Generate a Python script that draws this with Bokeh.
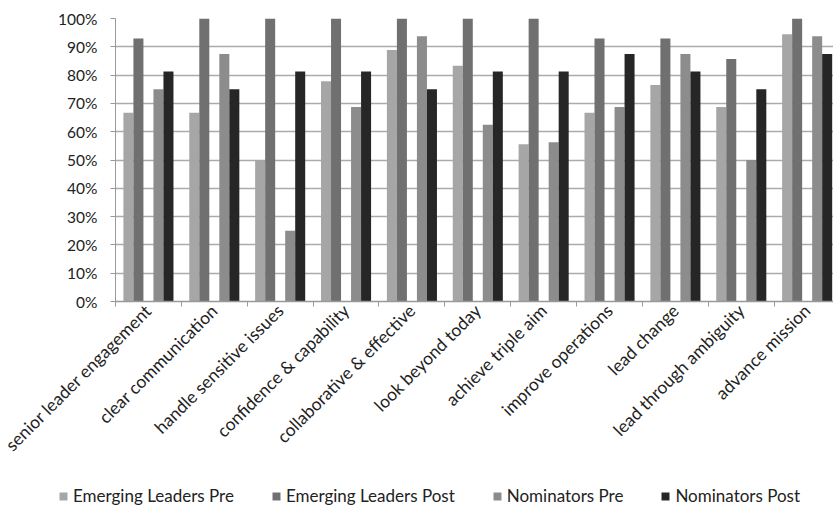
import numpy as np
from bokeh.plotting import figure
from bokeh.layouts import column, row
from bokeh.models import (ColumnDataSource, Range1d, FixedTicker, NumeralTickFormatter,
                          Legend, LegendItem)
from bokeh.transform import dodge
from bokeh.embed import file_html
from bokeh.resources import INLINE

categories = ["senior leader engagement", "clear communication", "handle sensitive issues",
              "confidence & capability", "collaborative & effective", "look beyond today",
              "achieve triple aim", "improve operations", "lead change",
              "lead through ambiguity", "advance mission"]
series_names = ["Emerging Leaders Pre", "Emerging Leaders Post", "Nominators Pre", "Nominators Post"]
el_pre = [0.667, 0.667, 0.50, 0.778, 0.889, 0.833, 0.556, 0.667, 0.765, 0.6875, 0.944]
el_post = [0.929, 1.0, 1.0, 1.0, 1.0, 1.0, 1.0, 0.929, 0.929, 0.857, 1.0]
nom_pre = [0.75, 0.875, 0.25, 0.6875, 0.9375, 0.625, 0.5625, 0.6875, 0.875, 0.50, 0.9375]
nom_post = [0.8125, 0.75, 0.8125, 0.8125, 0.75, 0.8125, 0.8125, 0.875, 0.8125, 0.75, 0.875]
y_ticks = [0.0, 0.1, 0.2, 0.3, 0.4, 0.5, 0.6, 0.7, 0.8, 0.9, 1.0]

colors = ["#a6a6a6", "#707070", "#8c8c8c", "#262626"]
FONT = "Lato"
n = len(categories)
centers = [i + 0.5 for i in range(n)]
bounds = [float(i) for i in range(n + 1)]

src = ColumnDataSource(dict(x=centers, el_pre=el_pre, el_post=el_post,
                            nom_pre=nom_pre, nom_post=nom_post))

p = figure(width=833, height=470, output_backend="svg", toolbar_location=None,
           x_range=Range1d(0, 10.9), y_range=Range1d(0, 1))
p.min_border_left = 115
p.min_border_right = 0
p.min_border_top = 18
p.min_border_bottom = 169
p.outline_line_color = None

bw = 0.152
offsets = [-2 * bw, -bw, bw, 2 * bw]
cols = ["el_pre", "el_post", "nom_pre", "nom_post"]
for c, off, col in zip(cols, offsets, colors):
    p.vbar(x=dodge("x", off), top=c, width=bw, bottom=0, source=src,
           fill_color=col, line_color=None)

p.xgrid.visible = False
p.ygrid.grid_line_color = "#ababab"
p.ygrid.grid_line_width = 1.5
p.yaxis.ticker = FixedTicker(ticks=y_ticks)
p.yaxis.formatter = NumeralTickFormatter(format="0%")
p.yaxis.minor_tick_line_color = None
p.yaxis.major_tick_in = 0
p.yaxis.major_tick_out = 5
p.yaxis.major_tick_line_color = "#999999"
p.yaxis.axis_line_color = "#999999"
p.yaxis.major_label_standoff = 13
p.yaxis.major_label_text_font = FONT
p.yaxis.major_label_text_font_size = "15.5px"
p.yaxis.major_label_text_color = "#222222"

p.xaxis.ticker = FixedTicker(ticks=centers, minor_ticks=bounds)
p.xaxis.major_label_overrides = {c: lab for c, lab in zip(centers, categories)}
p.xaxis.major_tick_line_color = None
p.xaxis.major_tick_in = 0
p.xaxis.major_tick_out = 0
p.xaxis.minor_tick_in = 0
p.xaxis.minor_tick_out = 5
p.xaxis.minor_tick_line_color = "#999999"
p.xaxis.axis_line_color = "#999999"
p.xaxis.axis_line_width = 1.5
p.xaxis.major_label_orientation = np.pi / 4
p.xaxis.major_label_standoff = 1
p.xaxis.major_label_text_font = FONT
p.xaxis.major_label_text_font_size = "17.5px"
p.xaxis.major_label_text_color = "#222222"

# legend strip below the chart (its own small figure; its sample bars lie outside its ranges)
lf = figure(width=833, height=36, output_backend="svg", toolbar_location=None,
            x_range=Range1d(100, 101), y_range=Range1d(100, 101),
            x_axis_location=None, y_axis_location=None)
lf.min_border = 0
lf.min_border_left = 0
lf.min_border_right = 0
lf.min_border_top = 0
lf.min_border_bottom = 0
lf.outline_line_color = None
lf.xgrid.visible = False
lf.ygrid.visible = False
lrs = [lf.vbar(x="x", top=c, width=bw, source=src, fill_color=col, line_color=None)
       for c, col in zip(cols, colors)]
legend = Legend(items=[LegendItem(label=nm, renderers=[r]) for nm, r in zip(series_names, lrs)],
                orientation="horizontal", location=(58, 0))
legend.padding = 0
legend.margin = 0
legend.border_line_color = None
legend.background_fill_alpha = 0
legend.glyph_width = 10
legend.glyph_height = 10
legend.label_standoff = 5
legend.spacing = 37
legend.label_text_font = FONT
legend.label_text_font_size = "17px"
legend.label_text_color = "#222222"
lf.add_layout(legend, "center")

open("out.html", "w").write(file_html(column(p, row(lf), spacing=0), INLINE))
